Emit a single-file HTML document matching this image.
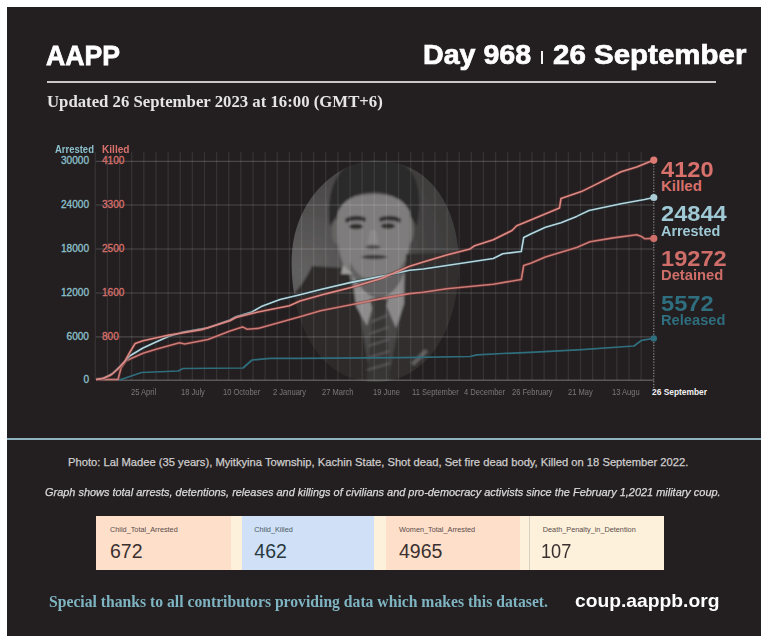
<!DOCTYPE html>
<html><head><meta charset="utf-8">
<style>
html,body{margin:0;padding:0;background:#fff;width:768px;height:643px;overflow:hidden;}
body{position:relative;font-family:"Liberation Sans",sans-serif;}
#panel{position:absolute;left:7px;top:7px;width:754px;height:629px;background:#231f20;overflow:hidden;}
.t{position:absolute;white-space:nowrap;line-height:1;}
.ya{left:0;width:89px;text-align:right;font-size:10.1px;color:#8cc0cc;-webkit-text-stroke:0.3px #8cc0cc;}
.yk{left:102px;font-size:10.1px;color:#d8706b;-webkit-text-stroke:0.3px #d8706b;}
.xl{top:387.5px;font-size:8.4px;color:#7c7878;transform-origin:0 0;transform:scaleX(0.9);}
.rn{left:661px;font-size:22px;font-weight:bold;transform-origin:0 0;transform:scaleX(1.075);}
.rw{left:661px;font-size:15px;font-weight:bold;transform-origin:0 0;}
.cl{top:526.1px;font-size:7.3px;}
.cn{top:541.6px;font-size:19.5px;transform-origin:0 0;}
</style></head><body>
<div id="panel"></div>
<svg id="chart" width="768" height="643" viewBox="0 0 768 643" style="position:absolute;left:0;top:0;">
<defs>
<clipPath id="oval"><path d="M375,160.5 C440,160.5 458.8,222 458.8,262 C458.8,330 427,382 375,382 C323,382 291.6,330 291.6,262 C291.6,198 340,160.5 375,160.5 Z"/></clipPath>
<linearGradient id="ovg" x1="0" y1="0" x2="1" y2="0">
<stop offset="0" stop-color="#6e6c6c"/><stop offset="0.45" stop-color="#5c5a5a"/><stop offset="1" stop-color="#4c4a4a"/></linearGradient>
<radialGradient id="ovr" gradientUnits="userSpaceOnUse" cx="300" cy="270" r="170"><stop offset="0" stop-color="#626060"/><stop offset="0.35" stop-color="#525050"/><stop offset="0.75" stop-color="#444242"/><stop offset="1" stop-color="#3c3a3a"/></radialGradient>
<filter id="soft" x="-10%" y="-10%" width="120%" height="120%"><feGaussianBlur stdDeviation="1.3"/></filter>
</defs>
<g clip-path="url(#oval)">
<g filter="url(#soft)">
<rect x="280" y="150" width="190" height="240" fill="url(#ovr)"/>
<!-- hair -->
<path d="M330,226 C326,196 334,172 352,163 C366,157 392,158 404,165 C420,176 422,200 417,226 L408,212 C400,198 390,192 374,192 C355,193 344,199 339,212 Z" fill="#2c2a2a"/>
<!-- ears -->
<ellipse cx="336.5" cy="232" rx="4.5" ry="12" fill="#666464"/>
<ellipse cx="409.5" cy="230" rx="4.5" ry="13" fill="#666464"/>
<!-- face -->
<path d="M338,212 C343,199 356,194 374,194 C392,194 404,199 410,212 C412,234 410,254 404,266 C398,276 388,280 375,280 C361,280 350,275 344,266 C338,254 336,234 338,212 Z" fill="#7e7c7c"/>
<!-- brows/eyes -->
<path d="M345,219 C351,215 360,215 366,218 L365,222 C359,220 352,220 346,223 Z" fill="#333131"/>
<path d="M379,218 C386,215 395,215 401,219 L400,223 C394,220 386,220 380,222 Z" fill="#333131"/>
<ellipse cx="356" cy="226.5" rx="7" ry="2.8" fill="#302e2e"/>
<ellipse cx="388" cy="226" rx="7" ry="2.8" fill="#302e2e"/>
<path d="M370,230 L367,246 L379,246 L376,230 Z" fill="#8a8888"/>
<ellipse cx="373" cy="247" rx="7.5" ry="2.2" fill="#4e4c4c"/>
<path d="M361,257 C367,254 381,254 388,257 C381,260 367,260 361,257 Z" fill="#3c3a3a"/>
<!-- neck -->
<path d="M350,262 C356,274 364,280 375,280 C388,280 398,274 405,260 L406,300 L350,300 Z" fill="#626060"/>
<!-- suit -->
<path d="M280,305 C292,298 304,284 312,266 L346,268 L358,300 L372,390 L280,390 Z" fill="#2e2b2c"/>
<path d="M470,252 L406,254 L404,300 L386,390 L470,390 Z" fill="#302d2e"/>
<!-- collar -->
<path d="M352,274 C358,286 366,294 375,298 L367,326 L356,306 Z" fill="#8e8c8c"/>
<path d="M404,272 C401,284 392,294 383,298 L396,328 L404,304 Z" fill="#8a8888"/>
<path d="M343,265 L353,274 L341,274 Z" fill="#9c9a9a"/>
<!-- tie -->
<path d="M370,299 L388,299 L385,312 L391,390 L366,390 L373,312 Z" fill="#383636"/>
<path d="M371,322 L388,315 M369,334 L389,327 M368,346 L390,339 M367,358 L390,351 M367,370 L391,363" stroke="#5e5c5c" stroke-width="1.6"/>
<!-- pocket square -->
<path d="M411,363 L425,349 L428,352 L414,366 Z" fill="#625f60"/>
</g>
</g>
<g stroke="#ffffff" stroke-opacity="0.085" stroke-width="1.3"><line x1="95.30" y1="152" x2="95.30" y2="380"/><line x1="107.43" y1="152" x2="107.43" y2="380"/><line x1="119.56" y1="152" x2="119.56" y2="380"/><line x1="131.69" y1="152" x2="131.69" y2="380"/><line x1="143.82" y1="152" x2="143.82" y2="380"/><line x1="155.95" y1="152" x2="155.95" y2="380"/><line x1="168.08" y1="152" x2="168.08" y2="380"/><line x1="180.21" y1="152" x2="180.21" y2="380"/><line x1="192.34" y1="152" x2="192.34" y2="380"/><line x1="204.47" y1="152" x2="204.47" y2="380"/><line x1="216.60" y1="152" x2="216.60" y2="380"/><line x1="228.73" y1="152" x2="228.73" y2="380"/><line x1="240.86" y1="152" x2="240.86" y2="380"/><line x1="252.99" y1="152" x2="252.99" y2="380"/><line x1="265.12" y1="152" x2="265.12" y2="380"/><line x1="277.25" y1="152" x2="277.25" y2="380"/><line x1="289.38" y1="152" x2="289.38" y2="380"/><line x1="301.51" y1="152" x2="301.51" y2="380"/><line x1="313.64" y1="152" x2="313.64" y2="380"/><line x1="325.77" y1="152" x2="325.77" y2="380"/><line x1="337.90" y1="152" x2="337.90" y2="380"/><line x1="350.03" y1="152" x2="350.03" y2="380"/><line x1="362.16" y1="152" x2="362.16" y2="380"/><line x1="374.29" y1="152" x2="374.29" y2="380"/><line x1="386.42" y1="152" x2="386.42" y2="380"/><line x1="398.55" y1="152" x2="398.55" y2="380"/><line x1="410.68" y1="152" x2="410.68" y2="380"/><line x1="422.81" y1="152" x2="422.81" y2="380"/><line x1="434.94" y1="152" x2="434.94" y2="380"/><line x1="447.07" y1="152" x2="447.07" y2="380"/><line x1="459.20" y1="152" x2="459.20" y2="380"/><line x1="471.33" y1="152" x2="471.33" y2="380"/><line x1="483.46" y1="152" x2="483.46" y2="380"/><line x1="495.59" y1="152" x2="495.59" y2="380"/><line x1="507.72" y1="152" x2="507.72" y2="380"/><line x1="519.85" y1="152" x2="519.85" y2="380"/><line x1="531.98" y1="152" x2="531.98" y2="380"/><line x1="544.11" y1="152" x2="544.11" y2="380"/><line x1="556.24" y1="152" x2="556.24" y2="380"/><line x1="568.37" y1="152" x2="568.37" y2="380"/><line x1="580.50" y1="152" x2="580.50" y2="380"/><line x1="592.63" y1="152" x2="592.63" y2="380"/><line x1="604.76" y1="152" x2="604.76" y2="380"/><line x1="616.89" y1="152" x2="616.89" y2="380"/><line x1="629.02" y1="152" x2="629.02" y2="380"/><line x1="641.15" y1="152" x2="641.15" y2="380"/></g>
<g stroke="#ffffff" stroke-opacity="0.18" stroke-width="1.2"><line x1="96" y1="161.3" x2="654" y2="161.3"/><line x1="96" y1="205" x2="654" y2="205"/><line x1="96" y1="249" x2="654" y2="249"/><line x1="96" y1="293" x2="654" y2="293"/><line x1="96" y1="336.8" x2="654" y2="336.8"/></g>
<line x1="96" y1="380.3" x2="654" y2="380.3" stroke="#ffffff" stroke-opacity="0.25" stroke-width="1.5"/>
<line x1="653.8" y1="160" x2="653.8" y2="390" stroke="#9a9596" stroke-width="1.1" stroke-dasharray="1.2 1.6"/>
<g fill="none" stroke-linejoin="round">
<polyline points="96,379.5 121,379.5 141.6,372.5 178,371 183,368.5 243,368 252,360 270,358.3 300,358.3 400,357.7 470,356.5 477,354.9 502.7,353.5 540,351.8 582,349.6 634,346 641.6,340.3 653.8,338.4" stroke="#2f6e7d" stroke-width="1.75"/>
<polyline points="96,379.5 118,379.5 121,368 126,361 130,359 143,353.2 156,349.3 179.5,342.8 184.7,344 208,339.5 230,331 242.5,326.9 247.2,329.2 258,328.4 300,316.7 320.6,310.7 351,304.7 381.3,298.6 409.6,293.6 423.3,292.3 446.7,288.8 470,286.5 493.3,284.2 521.3,279.5 523.7,265.5 530.7,263.2 545.5,256.9 561,252.2 576.7,247.5 590,241.8 613.3,237.9 636.7,234.8 641.4,236.4 644.5,238.7 653.8,238.4" stroke="#7a3432" stroke-width="3.4" stroke-opacity="0.45"/>
<polyline points="96,379.5 118,379.5 121,368 126,361 130,359 143,353.2 156,349.3 179.5,342.8 184.7,344 208,339.5 230,331 242.5,326.9 247.2,329.2 258,328.4 300,316.7 320.6,310.7 351,304.7 381.3,298.6 409.6,293.6 423.3,292.3 446.7,288.8 470,286.5 493.3,284.2 521.3,279.5 523.7,265.5 530.7,263.2 545.5,256.9 561,252.2 576.7,247.5 590,241.8 613.3,237.9 636.7,234.8 641.4,236.4 644.5,238.7 653.8,238.4" stroke="#cc7b76" stroke-width="1.6"/>
<polyline points="96,379.5 104,378 112.8,373.4 120.4,366 130,355.8 143,348 156,342 169,336.3 182,332.4 208,327.8 230,320 236,316.7 251.9,312 261.25,306.6 280,299.5 300,294.8 320.6,289.5 351,282.4 381.3,276.4 409.6,270.3 423.3,269 446.7,265.5 470,262 493.3,258.5 502.7,253.8 521.3,251.5 523.7,237.5 530.7,234 545.5,227.3 561,222.7 576.7,216.4 589,210.5 621.1,203.7 644.5,199.5 653.8,197.5" stroke="#1e3f48" stroke-width="3.4" stroke-opacity="0.45"/>
<polyline points="96,379.5 104,378 112.8,373.4 120.4,366 130,355.8 143,348 156,342 169,336.3 182,332.4 208,327.8 230,320 236,316.7 251.9,312 261.25,306.6 280,299.5 300,294.8 320.6,289.5 351,282.4 381.3,276.4 409.6,270.3 423.3,269 446.7,265.5 470,262 493.3,258.5 502.7,253.8 521.3,251.5 523.7,237.5 530.7,234 545.5,227.3 561,222.7 576.7,216.4 589,210.5 621.1,203.7 644.5,199.5 653.8,197.5" stroke="#b6d6de" stroke-width="1.6"/>
<polyline points="96,379.5 103,378.5 111,375 118,369 124.6,361.6 130,352 135.2,343.4 143,340.8 169,335 182,333 201.6,329.8 230,320.7 236,317.5 258,312 289.4,305.8 300,301 326.7,293.6 351,287.5 381.3,278.4 409.6,266.3 423.3,262 446.7,255 470,249 474.7,245.7 493.3,239.8 512,230.5 516.7,225.8 530.7,220 559.5,207.9 561,198.5 581.3,191.6 590,187.4 621.1,171.8 636.7,167.1 653.8,160.1" stroke="#7a3432" stroke-width="3.4" stroke-opacity="0.45"/>
<polyline points="96,379.5 103,378.5 111,375 118,369 124.6,361.6 130,352 135.2,343.4 143,340.8 169,335 182,333 201.6,329.8 230,320.7 236,317.5 258,312 289.4,305.8 300,301 326.7,293.6 351,287.5 381.3,278.4 409.6,266.3 423.3,262 446.7,255 470,249 474.7,245.7 493.3,239.8 512,230.5 516.7,225.8 530.7,220 559.5,207.9 561,198.5 581.3,191.6 590,187.4 621.1,171.8 636.7,167.1 653.8,160.1" stroke="#dd8a84" stroke-width="1.6"/>
</g>
<circle cx="653.8" cy="160.1" r="3.6" fill="#dd7a74"/>
<circle cx="653.8" cy="197.5" r="3.6" fill="#a9ccd6"/>
<circle cx="653.8" cy="238.4" r="3.6" fill="#cf6f6a"/>
<circle cx="653.8" cy="338.4" r="3.2" fill="#2f6e7d"/>
</svg>
<div class="t" id="aapp" style="transform-origin:0 0;transform:scaleX(0.935);left:46.3px;top:41.4px;font-size:28.5px;-webkit-text-stroke:0.8px #fff;font-weight:bold;color:#fff;">AAPP</div>
<div class="t" id="day" style="transform-origin:0 0;transform:scaleX(1.059);left:423.3px;top:42px;font-size:27px;-webkit-text-stroke:0.7px #fff;font-weight:bold;color:#fff;">Day 968</div>
<div style="position:absolute;left:540.6px;top:51px;width:2.6px;height:13px;background:#f4f4f4;"></div>
<div class="t" id="day2" style="transform-origin:0 0;transform:scaleX(1.092);left:552.5px;top:42px;font-size:27px;-webkit-text-stroke:0.7px #fff;font-weight:bold;color:#fff;">26 September</div>
<div style="position:absolute;left:47px;top:81px;width:669px;height:2px;background:#c9c7c8;"></div>
<div class="t" id="upd" style="transform-origin:0 0;transform:scaleX(1.054);left:47px;top:94px;font-family:'Liberation Serif',serif;font-size:15.9px;font-weight:bold;color:#e6e4e4;">Updated 26 September 2023 at 16:00 (GMT+6)</div>


<div id="ylab">
<div class="t" style="left:55px;top:144.3px;font-size:11px;font-weight:bold;color:#8cc0cc;transform-origin:0 0;transform:scaleX(0.86);">Arrested</div>
<div class="t" style="left:101.5px;top:144.3px;font-size:11px;font-weight:bold;color:#d8706b;transform-origin:0 0;transform:scaleX(0.92);">Killed</div>
<div class="t ya" style="top:156.3px;">30000</div>
<div class="t ya" style="top:200px;">24000</div>
<div class="t ya" style="top:244px;">18000</div>
<div class="t ya" style="top:288px;">12000</div>
<div class="t ya" style="top:331.8px;">6000</div>
<div class="t ya" style="top:375.3px;">0</div>
<div class="t yk" style="top:156.3px;">4100</div>
<div class="t yk" style="top:200px;">3300</div>
<div class="t yk" style="top:244px;">2500</div>
<div class="t yk" style="top:288px;">1600</div>
<div class="t yk" style="top:331.8px;">800</div>
</div>
<div id="xlab">
<div class="t xl" style="left:130.7px;">25 April</div>
<div class="t xl" style="left:180.5px;">18 July</div>
<div class="t xl" style="left:222.5px;">10 October</div>
<div class="t xl" style="left:273px;">2 January</div>
<div class="t xl" style="left:322.2px;">27 March</div>
<div class="t xl" style="left:373.4px;">19 June</div>
<div class="t xl" style="left:412.3px;">11 September</div>
<div class="t xl" style="left:463.6px;">4 December</div>
<div class="t xl" style="left:512px;">26 February</div>
<div class="t xl" style="left:568px;">21 May</div>
<div class="t xl" style="left:612.3px;">13 August</div>
<div class="t" style="left:640px;top:387.5px;font-size:8.4px;font-weight:bold;color:#f2f0f0;background:#231f20;padding-left:12px;">26 September</div>
</div>
<div id="rlab">
<div class="t rn" style="top:159px;color:#d8706b;">4120</div>
<div class="t rw" style="top:177.5px;color:#d8706b;">Killed</div>
<div class="t rn" style="top:203.2px;color:#9fcad5;">24844</div>
<div class="t rw" style="top:223.3px;color:#9fcad5;transform:scaleX(0.96);">Arrested</div>
<div class="t rn" style="top:248px;color:#cf6d69;">19272</div>
<div class="t rw" style="top:267px;color:#cf6d69;transform:scaleX(0.984);">Detained</div>
<div class="t rn" style="top:292.6px;color:#2f6e7e;">5572</div>
<div class="t rw" style="top:312.2px;color:#2f6e7e;transform:scaleX(0.978);">Released</div>
</div>
<div style="position:absolute;left:7px;top:437.6px;width:754px;height:2px;background:#8fb3be;"></div>
<div class="t" id="photo" style="left:68px;top:457px;font-size:11.2px;color:#cfcdcd;-webkit-text-stroke:0.25px #cfcdcd;">Photo: Lal Madee (35 years), Myitkyina Township, Kachin State, Shot dead, Set fire dead body, Killed on 18 September 2022.</div>
<div class="t" id="graph" style="transform-origin:0 0;transform:scaleX(0.9676);left:45px;top:487.3px;font-size:11.3px;font-style:italic;color:#dcdada;-webkit-text-stroke:0.25px #dcdada;">Graph shows total arrests, detentions, releases and killings of civilians and pro-democracy activists since the February 1,2021 military coup.</div>

<div style="position:absolute;left:96px;top:516px;width:568px;height:54px;background:#fdf1dc;"></div>
<div style="position:absolute;left:96px;top:516px;width:135px;height:54px;background:#fddfca;"></div>
<div style="position:absolute;left:242px;top:516px;width:132px;height:54px;background:#cfe0f7;"></div>
<div style="position:absolute;left:386px;top:516px;width:134px;height:54px;background:#fddfca;"></div>
<div style="position:absolute;left:529px;top:516px;width:1px;height:54px;background:#d8cfc4;"></div>

<div class="t cl" style="left:110px;color:#5a4c4a;">Child_Total_Arrested</div>
<div class="t cn" style="left:110px;color:#3a3030;">672</div>
<div class="t cl" style="left:254.3px;color:#4c5a60;">Child_Killed</div>
<div class="t cn" style="left:254.3px;color:#2a3a3e;">462</div>
<div class="t cl" style="left:399px;color:#5a4c4a;">Women_Total_Arrested</div>
<div class="t cn" style="left:399px;color:#3a3030;">4965</div>
<div class="t cl" style="left:542.8px;color:#5a4c4a;">Death_Penalty_in_Detention</div>
<div class="t cn" style="left:541.3px;color:#3a3030;transform:scaleX(0.93);">107</div>

<div class="t" id="thanks" style="transform-origin:0 0;transform:scaleX(0.986);left:49px;top:593.6px;font-family:'Liberation Serif',serif;font-size:15.9px;font-weight:bold;color:#7fb4c2;">Special thanks to all contributors providing data which makes this dataset.</div>
<div class="t" id="coup" style="transform-origin:0 0;transform:scaleX(1.089);left:575px;top:592.5px;font-size:17.7px;font-weight:bold;color:#fff;">coup.aappb.org</div>
</body></html>
